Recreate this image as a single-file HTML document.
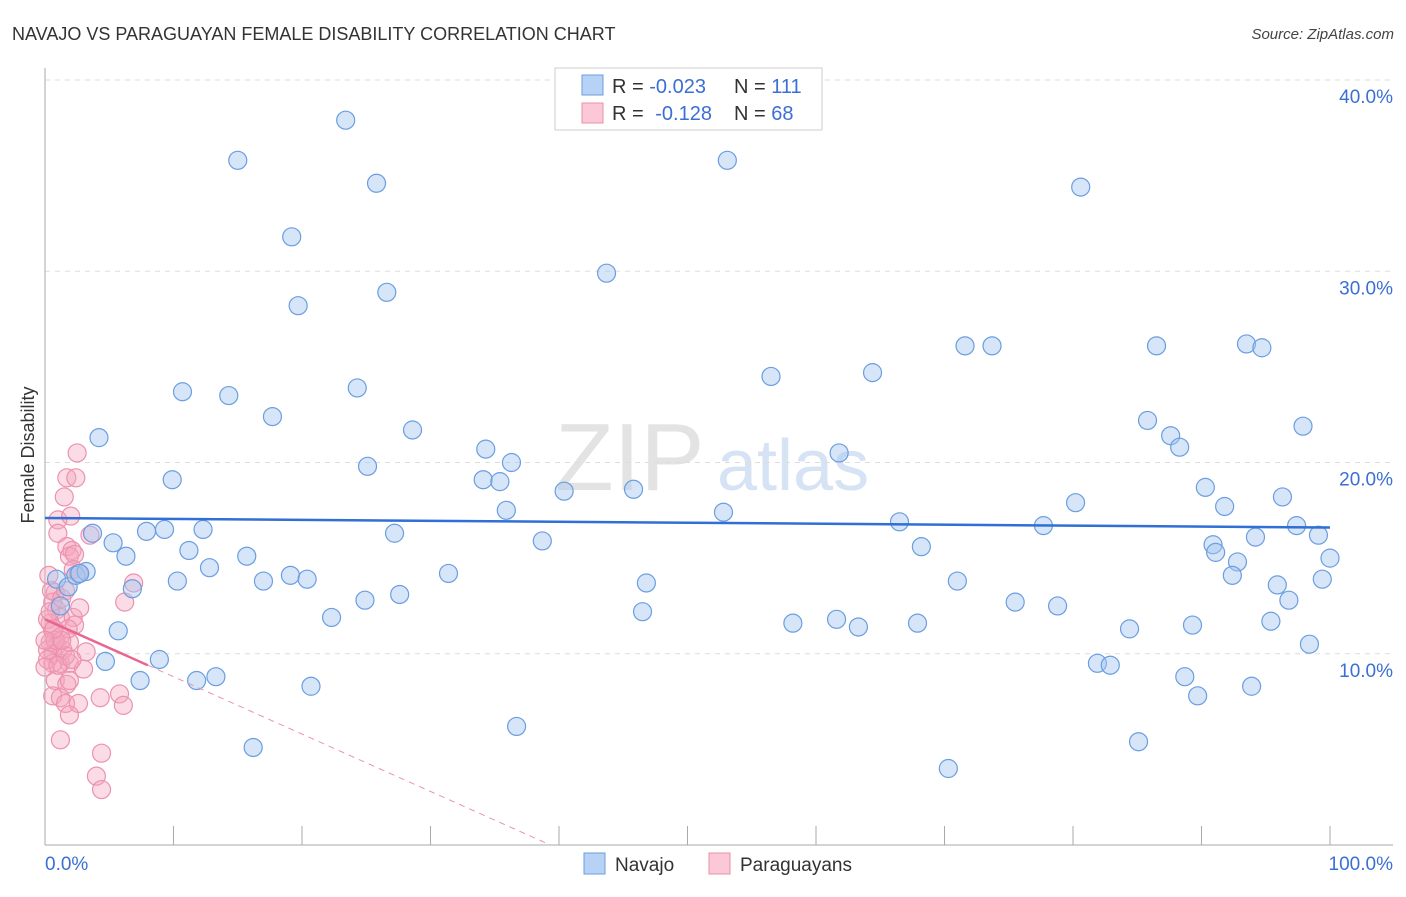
<!DOCTYPE html>
<html><head><meta charset="utf-8"><style>
body{margin:0;background:#fff;font-family:"Liberation Sans",sans-serif;}
svg text{font-family:"Liberation Sans",sans-serif;}
</style></head><body>
<svg id="chart" width="1406" height="892" xmlns="http://www.w3.org/2000/svg">
<text x="12" y="40" font-size="18" fill="#333">NAVAJO VS PARAGUAYAN FEMALE DISABILITY CORRELATION CHART</text>
<text x="1394" y="39" font-size="15" fill="#444" font-style="italic" text-anchor="end">Source: ZipAtlas.com</text>
<g>
<text x="555" y="490" font-size="96" fill="#e3e3e3" font-family="Liberation Serif,serif">ZIP</text>
<text x="717" y="490" font-size="72" fill="#d6e3f4">atlas</text>
</g>
<g id="grid"></g>
<g id="axes"></g>
<g id="pink"></g>
<g id="blue"></g>
<g id="trends"></g>
<text transform="translate(34,455) rotate(-90)" font-size="18" fill="#333" text-anchor="middle">Female Disability</text>
<g>
<rect x="555" y="68" width="267" height="62" fill="#fff" stroke="#ccc"/>
<rect x="582" y="75" width="21" height="20" fill="#b8d2f5" stroke="#6a9ee0"/>
<text x="612" y="93" font-size="20" fill="#333">R = <tspan fill="#3b6fd4">-0.023</tspan></text>
<text x="734" y="93" font-size="20" fill="#333">N = <tspan fill="#3b6fd4">111</tspan></text>
<rect x="582" y="103" width="21" height="20" fill="#fac8d6" stroke="#e890a8"/>
<text x="612" y="120" font-size="20" fill="#333">R = <tspan fill="#3b6fd4" dx="6">-0.128</tspan></text>
<text x="734" y="120" font-size="20" fill="#333">N = <tspan fill="#3b6fd4">68</tspan></text>
</g>
<g>
<rect x="584" y="853" width="21" height="21" fill="#b8d2f5" stroke="#6a9ee0"/>
<text x="615" y="871" font-size="19" fill="#333">Navajo</text>
<rect x="709" y="853" width="21" height="21" fill="#fac8d6" stroke="#e890a8"/>
<text x="740" y="871" font-size="19" fill="#333">Paraguayans</text>
</g>
</svg>
<script>
const yTicks=[10,20,30,40];
const yTickLabels=["10.0%","20.0%","30.0%","40.0%"];
const xTicks=[0,10,20,30,40,50,60,70,80,90,100];
const navajoX=[23.4,15.0,53.1,25.8,80.6,19.2,43.7,19.7,26.6,71.6,73.7,86.5,93.5,94.7,56.5,64.4,10.7,14.3,24.3,17.7,85.8,97.9,87.6,88.3,4.2,28.6,34.3,61.8,9.9,25.1,34.1,35.4,36.3,40.4,45.8,90.3,96.3,80.2,35.9,52.8,91.8,3.7,7.9,9.3,12.3,5.3,27.2,66.5,77.7,97.4,38.7,94.2,99.1,90.9,91.1,6.3,11.2,15.7,68.2,100.0,12.8,0.9,1.8,2.4,3.2,2.7,6.8,10.3,17.0,19.1,20.4,31.4,46.8,92.8,92.4,99.4,71.0,95.9,24.9,27.6,1.2,75.5,78.8,96.8,46.5,22.3,5.7,58.2,61.6,63.3,67.9,84.4,89.3,95.4,4.7,8.9,98.4,81.9,82.9,7.4,11.8,13.3,20.7,88.7,89.7,93.9,36.7,16.2,85.1,70.3];
const navajoY=[37.9,35.8,35.8,34.6,34.4,31.8,29.9,28.2,28.9,26.1,26.1,26.1,26.2,26.0,24.5,24.7,23.7,23.5,23.9,22.4,22.2,21.9,21.4,20.8,21.3,21.7,20.7,20.5,19.1,19.8,19.1,19.0,20.0,18.5,18.6,18.7,18.2,17.9,17.5,17.4,17.7,16.3,16.4,16.5,16.5,15.8,16.3,16.9,16.7,16.7,15.9,16.1,16.2,15.7,15.3,15.1,15.4,15.1,15.6,15.0,14.5,13.9,13.5,14.1,14.3,14.2,13.4,13.8,13.8,14.1,13.9,14.2,13.7,14.8,14.1,13.9,13.8,13.6,12.8,13.1,12.5,12.7,12.5,12.8,12.2,11.9,11.2,11.6,11.8,11.4,11.6,11.3,11.5,11.7,9.6,9.7,10.5,9.5,9.4,8.6,8.6,8.8,8.3,8.8,7.8,8.3,6.2,5.1,5.4,4.0];
const paraX=[2.5,1.7,2.4,1.5,1.0,2.0,1.0,3.5,1.7,2.1,1.9,2.3,2.2,2.6,0.8,6.9,6.2,0.6,0.9,1.2,2.2,2.3,0.4,0.6,1.2,0.4,0.9,1.4,0.6,0.2,1.9,3.2,1.9,3.0,1.2,0.6,0.2,0.8,1.7,0.6,1.2,1.6,2.6,1.9,4.3,5.8,6.1,1.2,4.4,4.0,4.4,0.2,0.4,0.8,1.6,0.0,0.5,1.3,1.8,1.0,2.1,0.3,1.6,2.7,1.3,0.7,1.9,0.0];
const paraY=[20.5,19.2,19.2,18.2,17.0,17.2,16.3,16.2,15.6,15.4,15.1,15.2,14.4,14.2,13.2,13.7,12.7,12.7,12.3,11.9,11.9,11.5,11.6,11.2,10.9,10.6,10.4,10.2,10.0,10.2,10.6,10.1,9.5,9.2,9.5,9.5,9.7,8.6,8.4,7.8,7.7,7.4,7.4,6.8,7.7,7.9,7.3,5.5,4.8,3.6,2.9,11.8,12.2,10.7,9.9,9.3,13.3,12.9,11.3,9.4,9.7,14.1,13.3,12.4,10.7,11.3,8.6,10.7];
const navajoTrend=[17.1,16.6];
const paraTrend=[11.8,-0.3];
const paraSolidEnd=8;

const X0=45,X1=1330,Y0=845,PPY=19.125;
const xs=v=>X0+(X1-X0)*v/100;
const ys=v=>Y0-v*PPY;
const NS="http://www.w3.org/2000/svg";
function mk(t,a,p){const e=document.createElementNS(NS,t);for(const k in a)e.setAttribute(k,a[k]);p.appendChild(e);return e;}
const grid=document.getElementById('grid'),axes=document.getElementById('axes');
yTicks.forEach((t,i)=>{
  const l=mk('line',{x1:X0,x2:1393,y1:ys(t),y2:ys(t),stroke:'#ddd','stroke-dasharray':'5,5'},grid);
  
  
  const tx=mk('text',{x:1393,y:ys(t)+23,'font-size':19,fill:'#3b6fd4','text-anchor':'end'},axes);
  tx.textContent=yTickLabels[i];
  
  
});
mk('line',{x1:X0,x2:X0,y1:68,y2:Y0,stroke:'#aaa'},axes);
mk('line',{x1:X0,x2:1393,y1:Y0,y2:Y0,stroke:'#aaa'},axes);
xTicks.forEach(t=>{
  const l=mk('line',{x1:xs(t),x2:xs(t),y1:Y0-19,y2:Y0,stroke:'#aaa'},axes);
  
  
});
const xl0=mk('text',{x:45,y:870,'font-size':19,fill:'#3b6fd4'},axes);xl0.textContent='0.0%';


const xl1=mk('text',{x:1393,y:870,'font-size':19,fill:'#3b6fd4','text-anchor':'end'},axes);xl1.textContent='100.0%';


const pg=document.getElementById('pink');
paraX.forEach((x,i)=>{
  const c=mk('circle',{cx:xs(x),cy:ys(paraY[i]),r:9,fill:'rgba(246,165,190,0.4)',stroke:'#ec92ad','stroke-width':1.2},pg);
  
  
});
const bg=document.getElementById('blue');
navajoX.forEach((x,i)=>{
  const c=mk('circle',{cx:xs(x),cy:ys(navajoY[i]),r:9,fill:'rgba(165,198,240,0.45)',stroke:'#6a9ee0','stroke-width':1.2},bg);
  
  
});
const tg=document.getElementById('trends');
const bt=mk('line',{x1:xs(0),y1:ys(navajoTrend[0]),x2:xs(100),y2:ys(navajoTrend[1]),stroke:'#2f6fd6','stroke-width':2.5},tg);


const pz=-paraTrend[0]/paraTrend[1];
const pd=mk('line',{x1:xs(paraSolidEnd),y1:ys(paraTrend[0]+paraTrend[1]*paraSolidEnd),x2:xs(pz),y2:ys(0),stroke:'#ec92ad','stroke-width':1,'stroke-dasharray':'6,5'},tg);


const pt=mk('line',{x1:xs(0),y1:ys(paraTrend[0]),x2:xs(paraSolidEnd),y2:ys(paraTrend[0]+paraTrend[1]*paraSolidEnd),stroke:'#e8668f','stroke-width':2.5},tg);


</script>
</body></html>
